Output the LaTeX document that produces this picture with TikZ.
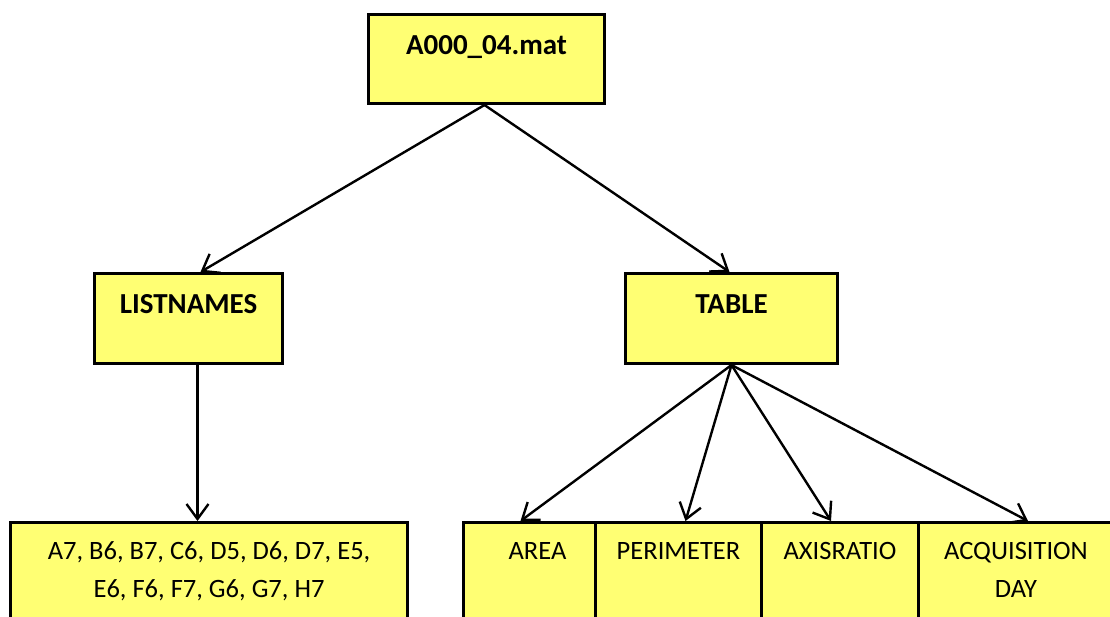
\documentclass[tikz,border=0pt]{standalone}
\usepackage{fontspec}
\setmainfont{Carlito}
\usetikzlibrary{arrows.meta}
\definecolor{boxyellow}{RGB}{255,255,115}
\tikzset{
  box/.style={draw=black, line width=3pt, fill=boxyellow, inner sep=0pt, align=center},
  bigtext/.style={font=\fontsize{29}{34}\selectfont\bfseries},
  smalltext/.style={font=\fontsize{26.5}{38}\selectfont},
  conn/.style={draw=black, line width=2.4pt, -{Straight Barb[length=15pt,width=22pt,line width=2.4pt]}}
}
\begin{document}
\begin{tikzpicture}[x=1pt,y=-1pt]
\useasboundingbox (0,0) rectangle (1110,616);
\clip (0,0) rectangle (1110,616);
% top
\node[box,bigtext,anchor=north west,minimum width=236pt,text height=40pt,text depth=49pt] (root) at (367,13) {A000\_04.mat};
\node[box,bigtext,anchor=north west,minimum width=188pt,text height=40pt,text depth=50pt] (listnames) at (93,272) {LISTNAMES};
\node[box,bigtext,anchor=north west,minimum width=212pt,text height=40pt,text depth=50pt] (table) at (624,272) {TABLE};
% bottom
\node[box,smalltext,anchor=north west,minimum width=397pt,text height=37pt,text depth=100pt] (names) at (9,521)
  {\parbox[t]{390pt}{\centering A7, B6, B7, C6, D5, D6, D7, E5,\\E6, F6, F7, G6, G7, H7}};
\node[box,smalltext,anchor=north west,minimum width=132pt,text height=37pt,text depth=100pt] (area) at (462,521) {\hspace*{16pt}AREA};
\node[box,smalltext,anchor=north west,minimum width=166pt,text height=37pt,text depth=100pt] (perimeter) at (594,521) {PERIMETER};
\node[box,smalltext,anchor=north west,minimum width=157pt,text height=37pt,text depth=100pt] (axisratio) at (760,521) {AXISRATIO};
\node[box,smalltext,anchor=north west,minimum width=195pt,text height=37pt,text depth=100pt] (acq) at (917,521)
  {\parbox[t]{190pt}{\centering ACQUISITION\\DAY}};
% connectors
\draw[conn] ([xshift=-2pt]root.south) -- ([xshift=12pt]listnames.north);
\draw[conn] ([xshift=-2pt]root.south) -- ([xshift=-2pt]table.north);
\draw[conn] ([xshift=9pt]listnames.south) -- ([xshift=-11.5pt]names.north);
\draw[conn] (table.south) -- ([xshift=-9pt]area.north);
\draw[conn] (table.south) -- ([xshift=7pt]perimeter.north);
\draw[conn] (table.south) -- ([xshift=-9pt]axisratio.north);
\draw[conn] (table.south) -- ([xshift=12pt]acq.north);
\end{tikzpicture}
\end{document}
